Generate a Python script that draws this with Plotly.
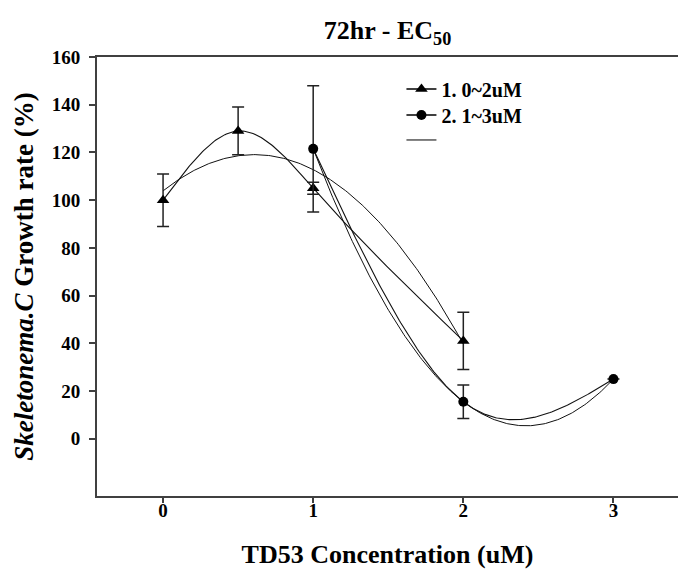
import numpy as np
import plotly.graph_objects as go

# 0~2uM series (triangles)
conc1 = [0, 0.5, 1, 2]
rate1 = [100, 129, 105, 41]
err1 = [11, 10, 2.5, 12]

# 1~3uM series (circles)
conc2 = [1, 2, 3]
rate2 = [121.5, 15.5, 25]
err2 = [26.5, 7, 0]

names = ['1. 0~2uM', '2. 1~3uM', ' ']
y_ticks = [0, 20, 40, 60, 80, 100, 120, 140, 160]
x_ticks = [0, 1, 2, 3]

SERIF = 'Liberation Serif'


def natural_spline(x, y, n=200):
    x = np.asarray(x, float)
    y = np.asarray(y, float)
    h = np.diff(x)
    m = len(x)
    A = np.zeros((m, m))
    r = np.zeros(m)
    A[0, 0] = A[-1, -1] = 1
    for i in range(1, m - 1):
        A[i, i - 1] = h[i - 1]
        A[i, i] = 2 * (h[i - 1] + h[i])
        A[i, i + 1] = h[i]
        r[i] = 6 * ((y[i + 1] - y[i]) / h[i] - (y[i] - y[i - 1]) / h[i - 1])
    M = np.linalg.solve(A, r)
    xs = np.linspace(x[0], x[-1], n)
    k = np.clip(np.searchsorted(x, xs) - 1, 0, m - 2)
    t0 = xs - x[k]
    t1 = x[k + 1] - xs
    hk = h[k]
    ys = ((M[k] * t1 ** 3 + M[k + 1] * t0 ** 3) / (6 * hk)
          + (y[k] / hk - M[k] * hk / 6) * t1
          + (y[k + 1] / hk - M[k + 1] * hk / 6) * t0)
    return xs, ys


def quad_fit(x, y, n=200):
    p = np.polyfit(x, y, 2)
    xs = np.linspace(min(x), max(x), n)
    return xs, np.polyval(p, xs)


fig = go.Figure()

# regression curves
for cx, cy in [(conc1, rate1), (conc2, rate2)]:
    fx, fy = quad_fit(cx, cy)
    fig.add_trace(go.Scatter(x=fx, y=fy, mode='lines', showlegend=False,
                             line=dict(color='#111', width=1)))

# spline lines through the data
for cx, cy in [(conc1, rate1), (conc2, rate2)]:
    sx, sy = natural_spline(cx, cy)
    fig.add_trace(go.Scatter(x=sx, y=sy, mode='lines', showlegend=False,
                             line=dict(color='#111', width=1.1)))

# data points with error bars
fig.add_trace(go.Scatter(x=conc1, y=rate1, mode='markers', showlegend=False,
                         marker=dict(symbol='triangle-up', size=11, color='black'),
                         error_y=dict(type='data', array=err1, color='#222',
                                      thickness=1.5, width=6)))
fig.add_trace(go.Scatter(x=conc2, y=rate2, mode='markers', showlegend=False,
                         marker=dict(symbol='circle', size=10, color='black'),
                         error_y=dict(type='data', array=err2, color='#222',
                                      thickness=1.5, width=6)))

# legend entries, one legend box each so the rows sit where the original has them
fig.add_trace(go.Scatter(x=[None], y=[None], mode='lines+markers', name=names[0],
                         legend='legend',
                         marker=dict(symbol='triangle-up', size=11, color='black'),
                         line=dict(color='black', width=1.5)))
fig.add_trace(go.Scatter(x=[None], y=[None], mode='lines+markers', name=names[1],
                         legend='legend2',
                         marker=dict(symbol='circle', size=10, color='black'),
                         line=dict(color='black', width=1.5)))
fig.add_trace(go.Scatter(x=[None], y=[None], mode='lines', name=names[2],
                         legend='legend3',
                         line=dict(color='black', width=1)))

leg = dict(x=0.524, xanchor='left', yanchor='middle', bgcolor='rgba(0,0,0,0)',
           font=dict(family=SERIF, size=20, weight='bold'))

fig.update_layout(
    width=678, height=569,
    margin=dict(l=97, r=0, t=57, b=73),
    paper_bgcolor='white', plot_bgcolor='white',
    font=dict(family=SERIF, color='black'),
    title=dict(text='72hr - EC<sub>50</sub>', x=0.5, xref='paper',
               y=1 - 30 / 569, yref='container', yanchor='middle', xanchor='center',
               font=dict(family=SERIF, size=26, weight='bold')),
    legend=dict(leg, y=0.927),
    legend2=dict(leg, y=0.868),
    legend3=dict(leg, y=0.811),
)
fig.update_xaxes(range=[-0.44, 3.43], tickvals=x_ticks, showgrid=False, zeroline=False,
                 showline=True, linecolor='#404040', linewidth=2, mirror=True,
                 ticks='outside', ticklen=5, tickwidth=1.5, tickcolor='#404040',
                 ticklabelstandoff=-9,
                 tickfont=dict(family=SERIF, size=19, weight='bold'),
                 title=dict(text='TD53 Concentration (uM)', standoff=29,
                            font=dict(family=SERIF, size=26, weight='bold')))
fig.update_yaxes(range=[-24, 160], tickvals=y_ticks, showgrid=False, zeroline=False,
                 showline=True, linecolor='#404040', linewidth=2,
                 ticks='outside', ticklen=6, tickwidth=1.5, tickcolor='#404040',
                 ticklabelstandoff=5,
                 tickfont=dict(family=SERIF, size=19, weight='bold'),
                 title=dict(text='<i>Skeletonema.C</i> Growth rate (%)', standoff=10,
                            font=dict(family=SERIF, size=27, weight='bold')))

fig.write_html('out.html', config={'displayModeBar': False},
               post_script="document.body.style.margin='0';")
